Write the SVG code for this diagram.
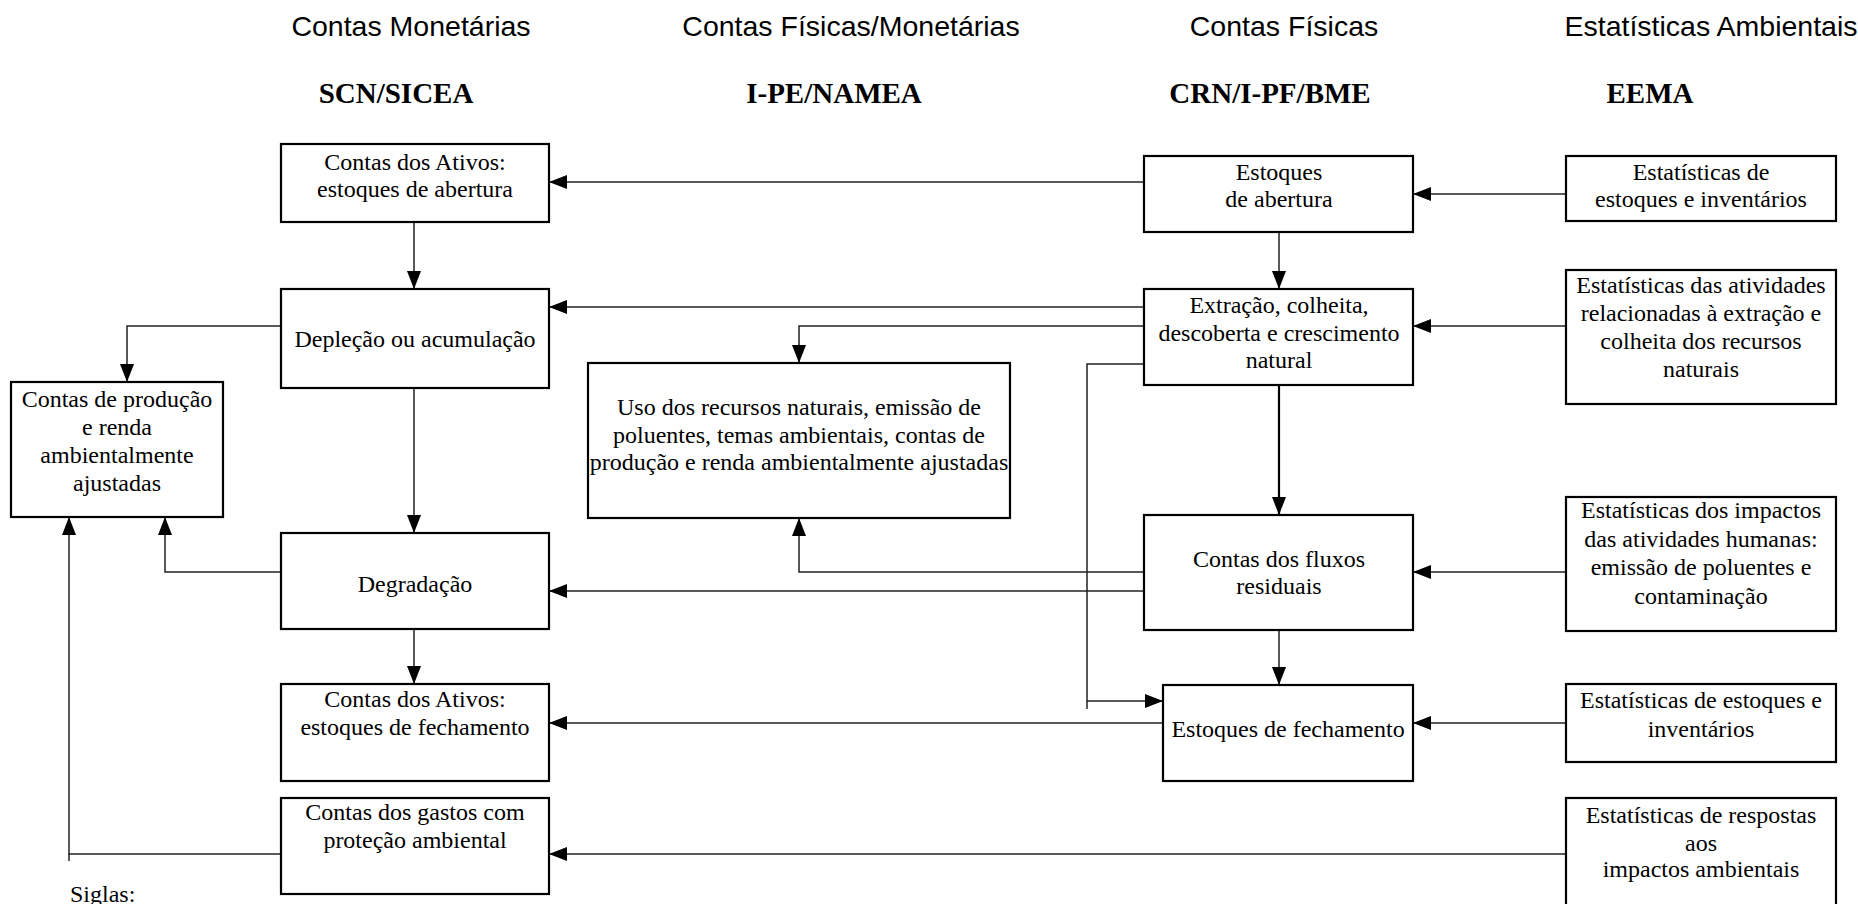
<svg xmlns="http://www.w3.org/2000/svg" width="1858" height="904" viewBox="0 0 1858 904">
<style>
.bg{fill:#fff}
.box rect{fill:#fff;stroke:#000;stroke-width:2.2}
.box text,.note{font-family:"Liberation Serif","Times New Roman",serif;font-size:24px;fill:#000;text-anchor:middle}
.note{text-anchor:start}
.h1{font-family:"Liberation Sans",Arial,sans-serif;font-size:28.5px;fill:#000;text-anchor:middle}
.h2{font-family:"Liberation Serif","Times New Roman",serif;font-size:29px;font-weight:bold;fill:#000;text-anchor:middle}
.conn path{fill:none;stroke:#222;stroke-width:1.5}
.conn path.thick{stroke:#000;stroke-width:2.2}
.conn path.arr{marker-end:url(#ah)}
</style>
<defs>
<marker id="ah" markerUnits="userSpaceOnUse" markerWidth="18" markerHeight="14" refX="18" refY="7" orient="auto">
<path d="M0,0 L18,7 L0,14 Z" fill="#000"/>
</marker>
</defs>
<rect class="bg" x="0" y="0" width="1858" height="904"/>

<g id="headers">
<text class="h1" x="411" y="36">Contas Monetárias</text>
<text class="h1" x="851" y="36">Contas Físicas/Monetárias</text>
<text class="h1" x="1284" y="36">Contas Físicas</text>
<text class="h1" x="1711" y="36">Estatísticas Ambientais</text>
<text class="h2" x="396" y="103">SCN/SICEA</text>
<text class="h2" x="834" y="103">I-PE/NAMEA</text>
<text class="h2" x="1270" y="103">CRN/I-PF/BME</text>
<text class="h2" x="1650" y="103">EEMA</text>
</g>

<g id="connectors" class="conn">
<path class="arr" d="M1144,182 H549"/>
<path class="arr" d="M1566,194 H1413"/>
<path class="arr" d="M414,222 V289"/>
<path class="arr" d="M1279,232 V289"/>
<path class="arr" d="M1144,307 H549"/>
<path class="arr" d="M1144,326 H799 V363"/>
<path class="arr" d="M280,326 H127 V382"/>
<path class="arr" d="M1566,326 H1413"/>
<path d="M1087,701 V709"/>
<path class="arr" d="M1144,364 H1087 V701 H1163"/>
<path class="arr thick" d="M1279,385 V515"/>
<path class="arr" d="M414,388 V533"/>
<path class="arr" d="M1144,572 H799 V518"/>
<path class="arr" d="M1566,572 H1413"/>
<path class="arr" d="M1144,591 H549"/>
<path class="arr" d="M280,572 H165 V517"/>
<path class="arr" d="M414,629 V684"/>
<path class="arr" d="M1279,630 V685"/>
<path class="arr" d="M1163,723 H549"/>
<path class="arr" d="M1566,723 H1413"/>
<path d="M69,854 V861"/>
<path class="arr" d="M280,854 H69 V517"/>
<path class="arr" d="M1566,854 H549"/>
</g>

<g id="n1" class="box"><rect x="281" y="144" width="268" height="78"/>
<text x="415" y="170">Contas dos Ativos:</text><text x="415" y="197">estoques de abertura</text></g>

<g id="n2" class="box"><rect x="281" y="289" width="268" height="99"/>
<text x="415" y="347">Depleção ou acumulação</text></g>

<g id="n3" class="box"><rect x="11" y="382" width="212" height="135"/>
<text x="117" y="407">Contas de produção</text><text x="117" y="435">e renda</text><text x="117" y="463">ambientalmente</text><text x="117" y="491">ajustadas</text></g>

<g id="n4" class="box"><rect x="588" y="363" width="422" height="155"/>
<text x="799" y="415">Uso dos recursos naturais, emissão de</text><text x="799" y="443">poluentes, temas ambientais, contas de</text><text x="799" y="470">produção e renda ambientalmente ajustadas</text></g>

<g id="n5" class="box"><rect x="281" y="533" width="268" height="96"/>
<text x="415" y="592">Degradação</text></g>

<g id="n6" class="box"><rect x="281" y="684" width="268" height="97"/>
<text x="415" y="707">Contas dos Ativos:</text><text x="415" y="735">estoques de fechamento</text></g>

<g id="n7" class="box"><rect x="281" y="798" width="268" height="96"/>
<text x="415" y="820">Contas dos gastos com</text><text x="415" y="848">proteção ambiental</text></g>

<g id="n8" class="box"><rect x="1144" y="156" width="269" height="76"/>
<text x="1279" y="180">Estoques</text><text x="1279" y="207">de abertura</text></g>

<g id="n9" class="box"><rect x="1144" y="289" width="269" height="96"/>
<text x="1279" y="313">Extração, colheita,</text><text x="1279" y="341">descoberta e crescimento</text><text x="1279" y="368">natural</text></g>

<g id="n10" class="box"><rect x="1144" y="515" width="269" height="115"/>
<text x="1279" y="567">Contas dos fluxos</text><text x="1279" y="594">residuais</text></g>

<g id="n11" class="box"><rect x="1163" y="685" width="250" height="96"/>
<text x="1288" y="737">Estoques de fechamento</text></g>

<g id="n12" class="box"><rect x="1566" y="156" width="270" height="65"/>
<text x="1701" y="180">Estatísticas de</text><text x="1701" y="207">estoques e inventários</text></g>

<g id="n13" class="box"><rect x="1566" y="270" width="270" height="134"/>
<text x="1701" y="293">Estatísticas das atividades</text><text x="1701" y="321">relacionadas à extração e</text><text x="1701" y="349">colheita dos recursos</text><text x="1701" y="377">naturais</text></g>

<g id="n14" class="box"><rect x="1566" y="497" width="270" height="134"/>
<text x="1701" y="518">Estatísticas dos impactos</text><text x="1701" y="547">das atividades humanas:</text><text x="1701" y="575">emissão de poluentes e</text><text x="1701" y="604">contaminação</text></g>

<g id="n15" class="box"><rect x="1566" y="684" width="270" height="78"/>
<text x="1701" y="708">Estatísticas de estoques e</text><text x="1701" y="737">inventários</text></g>

<g id="n16" class="box"><rect x="1566" y="798" width="270" height="112"/>
<text x="1701" y="823">Estatísticas de respostas</text><text x="1701" y="851">aos</text><text x="1701" y="877">impactos ambientais</text></g>

<text class="note" x="70" y="902">Siglas:</text>
</svg>
